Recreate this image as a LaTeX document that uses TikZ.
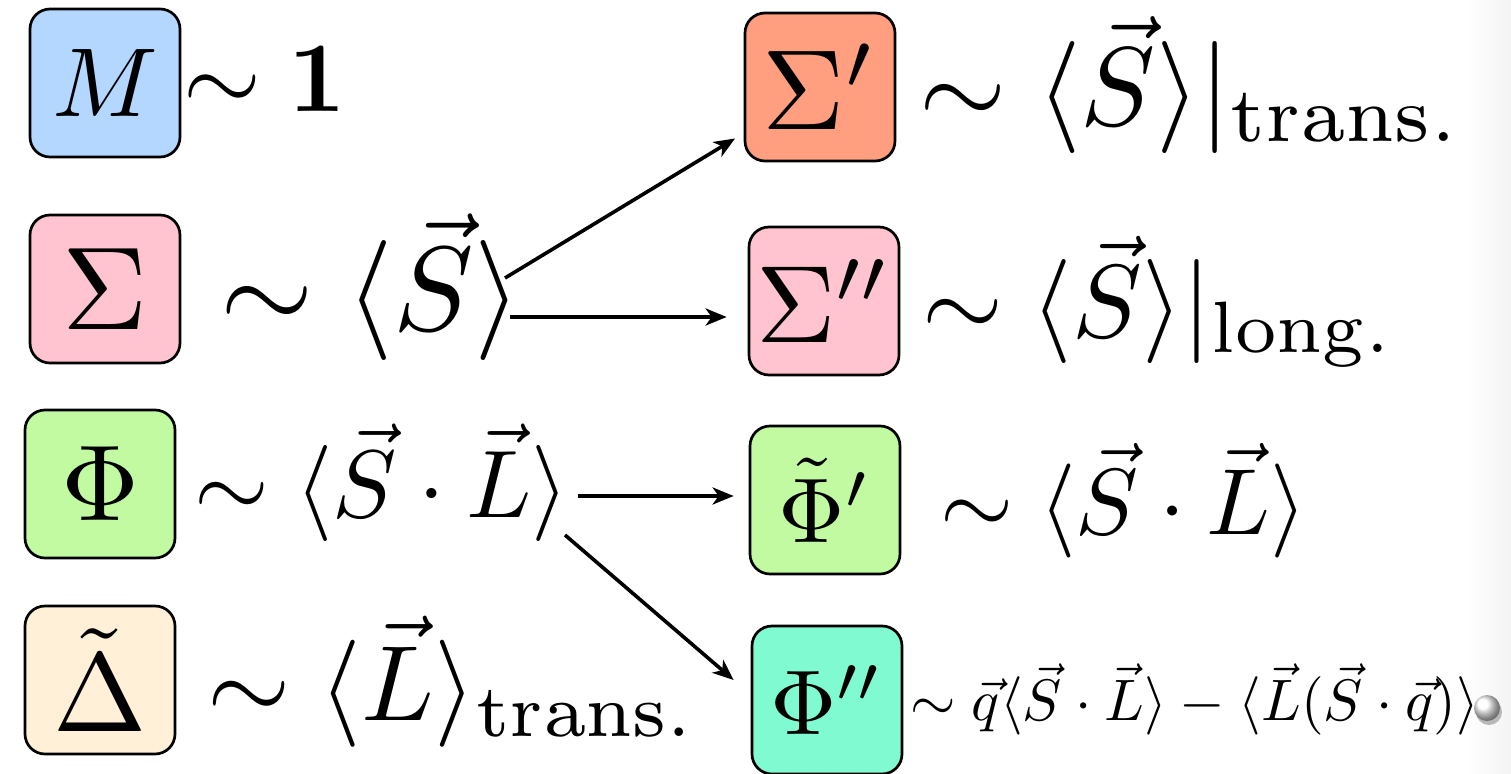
\documentclass[tikz,border=0pt]{standalone}
\usepackage{graphicx}
\usetikzlibrary{arrows.meta,calc}
\definecolor{cblue}{RGB}{179,215,255}
\definecolor{cpink}{RGB}{255,196,207}
\definecolor{cgreen}{RGB}{193,250,161}
\definecolor{ccream}{RGB}{255,240,215}
\definecolor{csalmon}{RGB}{255,159,128}
\definecolor{caqua}{RGB}{128,250,208}
% #1 = scale of a 10pt formula, #2 = math
\newcommand{\mt}[2]{\scalebox{#1}{$#2$}}
\begin{document}
\begin{tikzpicture}[x=1pt,y=-1pt,
  box/.style={draw=black, line width=2.7pt, rounded corners=20pt, minimum width=150pt, minimum height=148pt, inner sep=0pt},
  lbl/.style={anchor=base west, inner sep=0pt},
  conn/.style={-{Stealth[length=21pt,width=17pt,inset=6pt]}, line width=3.6pt}]
\fill[white] (0,0) rectangle (1511,773);
\useasboundingbox (0,0) rectangle (1511,773);
\shade[left color=white, right color=gray!9] (1466,0) rectangle (1511,773);

% left column boxes
\node[box, fill=cblue] (m) at (105,83) {\mt{9.8}{M}};
\node[box, fill=cpink] (sig) at (105,289) {\mt{11.8}{\Sigma}};
\node[box, fill=cgreen] (phi) at (100,484) {\mt{10.8}{\Phi}};
\node[box, fill=ccream] (del) at (100,680) {\mt{11.2}{\tilde\Delta}};

% right column boxes
\node[box, fill=csalmon] (sp) at (820,87) {\mt{11.4}{\Sigma'}};
\node[box, fill=cpink] (spp) at (824,301) {\mt{11.0}{\Sigma''}};
\node[box, fill=cgreen] (php) at (825,500) {\mt{9.2}{\tilde\Phi'}};
\node[box, fill=caqua] (phpp) at (827,700) {\mt{9.2}{\Phi''}};

% labels
\node[lbl] (lm) at (183,112) {\mt{10.0}{\sim \mathbf{1}}};
\node[lbl] (lsig) at (220,330) {\mt{12.0}{\sim \langle\vec S\rangle}};
\node[lbl] (lphi) at (194,517) {\mt{9.6}{\sim \langle\vec S\cdot\vec L\rangle}};
\node[lbl] (ldel) at (207,720) {\mt{10.7}{\sim \langle\vec L\rangle_{\mathrm{trans.}}}};
\node[lbl] (lsp) at (919,125) {\mt{11.2}{\sim \langle\vec S\rangle|_{\mathrm{trans.}}}};
\node[lbl] (lspp) at (922,337) {\mt{10.4}{\sim \langle\vec S\rangle|_{\mathrm{long.}}}};
\node[lbl] (lphp) at (940,534) {\mt{9.4}{\sim \langle\vec S\cdot\vec L\rangle}};
\node[lbl] (lphpp) at (910,720) {\mt{5.85}{\sim \vec q\langle\vec S\cdot\vec L\rangle - \langle\vec L(\vec S\cdot\vec q)\rangle}};

% connectors
\coordinate (a1s) at (505,278);
\coordinate (a2s) at (510,317);
\coordinate (a3s) at (578,496);
\coordinate (a4s) at (565,535);
\coordinate (a4e) at ($(phpp.west)+(-17,-20)$);
\draw[conn, shorten >=10pt] (a1s) -- (sp);
\draw[conn, shorten >=21pt] (a2s) -- (a2s -| spp.west);
\draw[conn, shorten >=15pt] (a3s) -- (a3s -| php.west);
\draw[conn] (a4s) -- (a4e);

% small sphere at the right edge
\fill[gray!55] (1489,712) circle (13);
\shade[ball color=white] (1487,708) circle (13);
\end{tikzpicture}
\end{document}
